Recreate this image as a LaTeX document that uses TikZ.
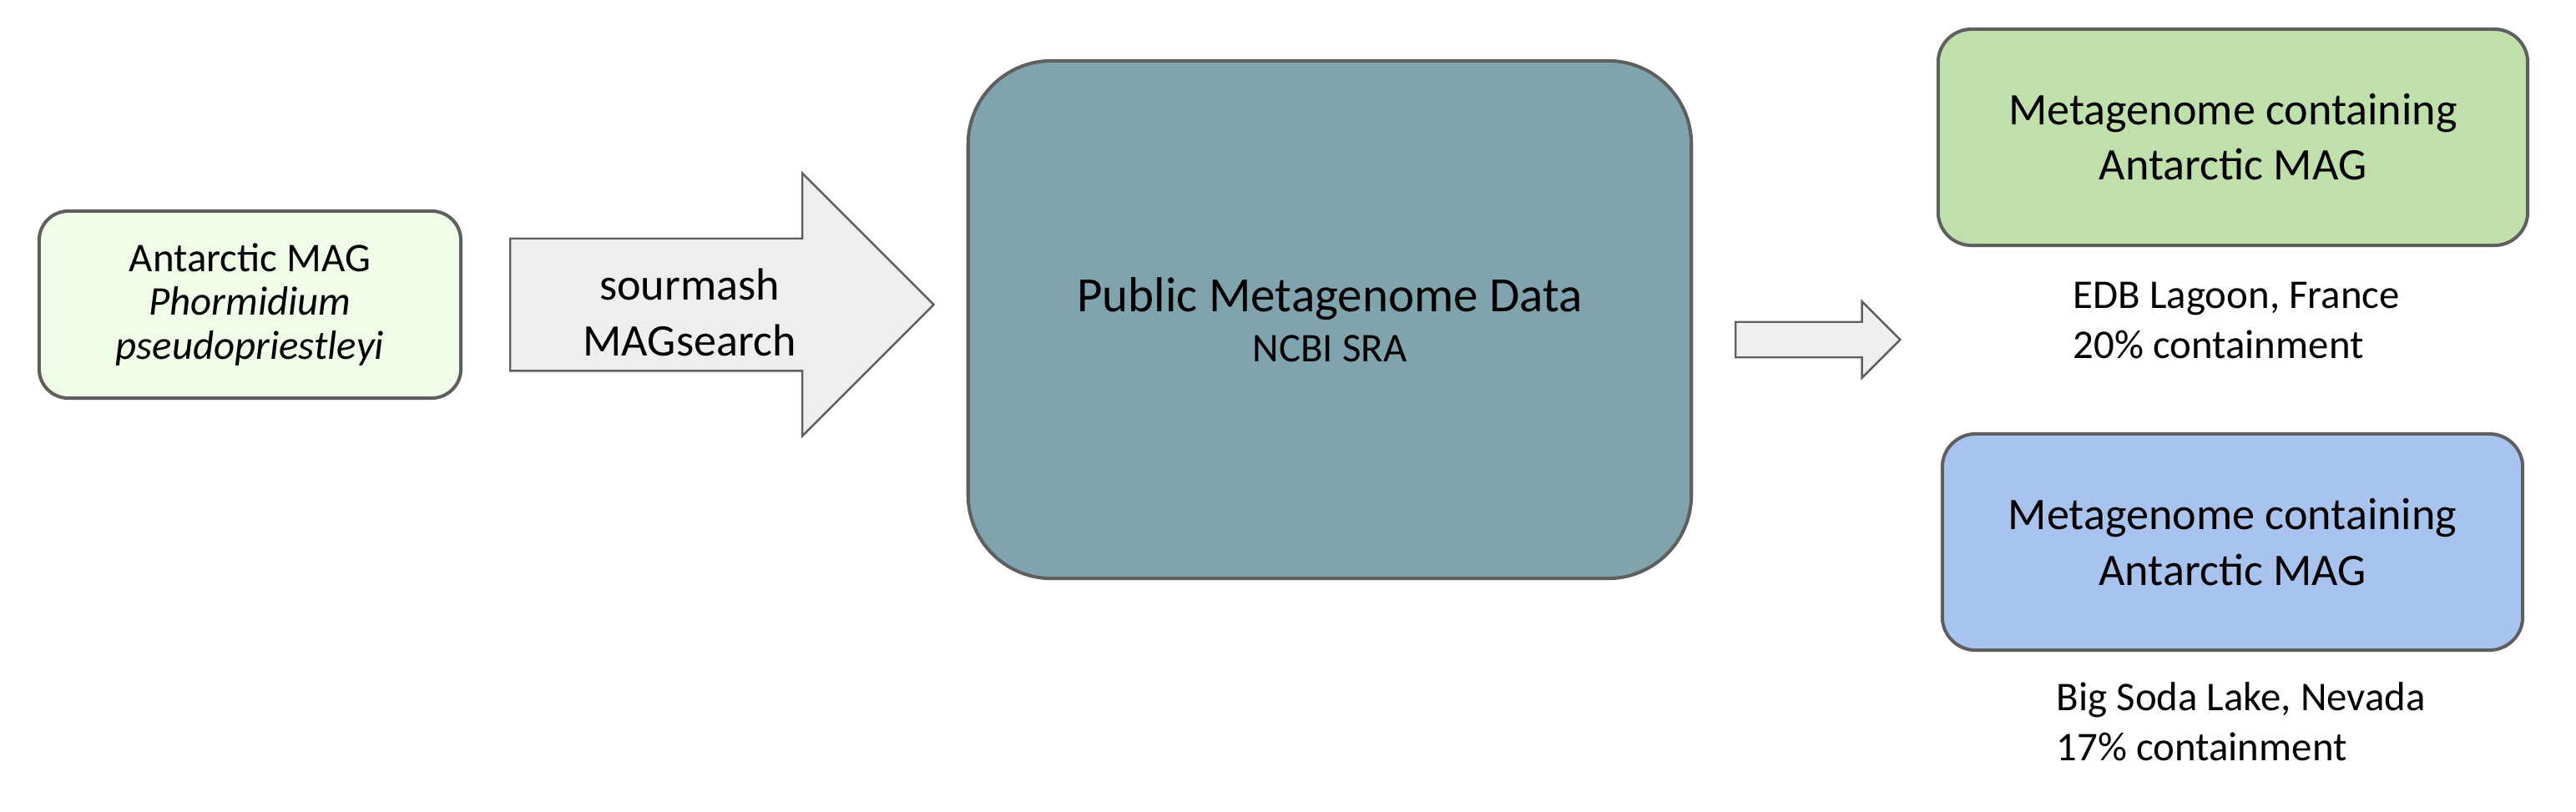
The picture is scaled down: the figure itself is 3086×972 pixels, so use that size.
\documentclass[tikz,border=0pt]{standalone}
\usepackage{fontspec}
\setmainfont{Carlito}
\usetikzlibrary{shapes.arrows}

\definecolor{magfill}{HTML}{EEFCE8}
\definecolor{datafill}{HTML}{7FA4AD}
\definecolor{hitgreen}{HTML}{C0E0AB}
\definecolor{hitblue}{HTML}{A9C3EF}
\definecolor{edge}{HTML}{5F5F5F}
\definecolor{arrowfill}{HTML}{EEEEEE}

\tikzset{box/.style={
		draw=edge, line width=1.15pt, align=center, inner sep=0pt
	},
	blockarrow/.style={
		single arrow, draw=edge, fill=arrowfill, line width=0.7pt,
		single arrow tip angle=90, inner xsep=0pt, anchor=tail
	}
}

\begin{document}
\begin{tikzpicture}[x=0.01cm, y=-0.01cm]
		\useasboundingbox (0,0) rectangle (3086,972);
		% query genome
		\node [box, fill=magfill, rounded corners=0.35cm, minimum width=5.05cm, minimum height=2.24cm,
			font=\fontsize{13.9pt}{14.8pt}\selectfont] (mag) at (299.5,365)
			{Antarctic MAG\\\textit{Phormidium}\\\textit{pseudopriestleyi}};
		% search step
		\node [blockarrow, minimum height=5.07cm, minimum width=3.12cm, inner ysep=0.78cm,
			single arrow head extend=0.78cm] (search) at (610,365) {};
		\node [align=center, font=\fontsize{15.4pt}{19pt}\selectfont] (searchtext) at (826,374) {sourmash\\MAGsearch};
		% database
		\node [box, fill=datafill, rounded corners=1cm, minimum width=8.66cm, minimum height=6.2cm] (sra) at (1593,383)
			{{\fontsize{16.8pt}{18.5pt}\selectfont Public Metagenome Data}\\[5pt]{\fontsize{13.9pt}{15pt}\selectfont NCBI SRA}};
		\node [blockarrow, minimum height=1.97cm, minimum width=0.89cm, inner ysep=0.2cm,
			single arrow head extend=0.245cm] (result) at (2078,407) {};
		% hits
		\node [box, fill=hitgreen, rounded corners=0.4cm, minimum width=7.06cm, minimum height=2.59cm,
			font=\fontsize{15.4pt}{18.8pt}\selectfont] (hitone) at (2675,164.5)
			{Metagenome containing\\Antarctic MAG};
		\node [box, fill=hitblue, rounded corners=0.4cm, minimum width=6.95cm, minimum height=2.59cm,
			font=\fontsize{15.4pt}{18.8pt}\selectfont] (hittwo) at (2674.5,649.5)
			{Metagenome containing\\Antarctic MAG};
		\node [anchor=west, align=left, inner sep=0pt, font=\fontsize{13.9pt}{17pt}\selectfont] (siteone) at (2483,384)
			{EDB Lagoon, France\\20\% containment};
		\node [anchor=west, align=left, inner sep=0pt, font=\fontsize{13.9pt}{17pt}\selectfont] (sitetwo) at (2463,865)
			{Big Soda Lake, Nevada\\17\% containment};
	\end{tikzpicture}
\end{document}
